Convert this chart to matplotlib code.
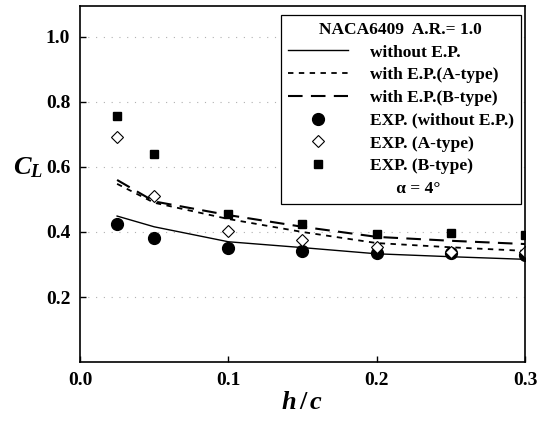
import matplotlib
matplotlib.use("Agg")
import matplotlib.pyplot as plt
from matplotlib.lines import Line2D

# Data (NACA6409, A.R. = 1.0, alpha = 4 deg)
h_c = [0.025, 0.05, 0.1, 0.15, 0.2, 0.25, 0.3]

# computed curves
cl_without = [0.449, 0.416, 0.370, 0.352, 0.333, 0.324, 0.316]
cl_a_type = [0.548, 0.490, 0.440, 0.400, 0.366, 0.353, 0.342]
cl_b_type = [0.560, 0.494, 0.452, 0.416, 0.385, 0.373, 0.363]

# experiments
exp_without = [0.424, 0.381, 0.350, 0.343, 0.336, 0.335, 0.329]
exp_a_type = [0.693, 0.512, 0.404, 0.375, 0.355, 0.339, 0.339]
exp_b_type = [0.757, 0.641, 0.455, 0.425, 0.394, 0.396, 0.391]

y_ticks = [0.2, 0.4, 0.6, 0.8, 1.0]
x_ticks = [0.0, 0.1, 0.2, 0.3]

plt.rcParams["font.family"] = "serif"
plt.rcParams["font.serif"] = ["Liberation Serif", "DejaVu Serif"]
plt.rcParams["font.weight"] = "bold"
plt.rcParams["mathtext.fontset"] = "custom"
plt.rcParams["mathtext.it"] = "Liberation Serif:italic:bold"
plt.rcParams["mathtext.rm"] = "Liberation Serif:bold"
plt.rcParams["mathtext.bf"] = "Liberation Serif:bold"

fig = plt.figure(figsize=(5.48, 4.25), dpi=100)
ax = fig.add_subplot(111)
fig.subplots_adjust(left=0.146, right=0.958, top=0.986, bottom=0.148)

# faint dotted grid
for yv in y_ticks:
    ax.axhline(yv, color="#b0b0b0", lw=0.8, ls=(0, (1, 6)), zorder=0)

ax.plot(h_c, cl_without, color="black", lw=1.0, ls="-")
ax.plot(h_c, cl_a_type, color="black", lw=1.3, ls=(0, (3, 3)))
ax.plot(h_c, cl_b_type, color="black", lw=1.5, ls=(0, (7, 4)))

ax.plot(h_c, exp_without, "o", color="black", ms=8.5, ls="none")
ax.plot(h_c, exp_a_type, "D", mfc="white", mec="black", mew=0.8, ms=6, ls="none")
ax.plot(h_c, exp_b_type, "s", color="black", ms=5.5, ls="none")

ax.set_xlim(0, 0.3)
ax.set_ylim(0, 1.095)
ax.set_xticks(x_ticks)
ax.set_yticks(y_ticks)
ax.set_xticklabels(["%.1f" % v for v in x_ticks])
ax.set_yticklabels(["%.1f" % v for v in y_ticks])
ax.tick_params(direction="in", length=4, width=1, labelsize=14, pad=7)
for s in ax.spines.values():
    s.set_linewidth(1.2)

ax.set_xlabel("$h\\,/\\,c$", fontsize=19, labelpad=2)
ax.set_ylabel("$C_L$", fontsize=19, rotation=0)
ax.yaxis.set_label_coords(-0.117, 0.51)

# legend
handles = [
    Line2D([], [], color="black", lw=1.0, ls="-"),
    Line2D([], [], color="black", lw=1.3, ls=(0, (3, 3))),
    Line2D([], [], color="black", lw=1.5, ls=(0, (7, 4))),
    Line2D([], [], marker="o", color="black", ms=8.5, ls="none"),
    Line2D([], [], marker="D", mfc="white", mec="black", mew=0.8, ms=6, ls="none"),
    Line2D([], [], marker="s", color="black", ms=5.5, ls="none"),
    Line2D([], [], ls="none"),
]
labels = [
    "without E.P.",
    "with E.P.(A-type)",
    "with E.P.(B-type)",
    "EXP. (without E.P.)",
    "EXP. (A-type)",
    "EXP. (B-type)",
    "      α = 4°",
]
leg = ax.legend(handles, labels, title="NACA6409  A.R.= 1.0",
                loc="upper right", bbox_to_anchor=(0.99, 0.975),
                borderaxespad=0, fontsize=12.5, title_fontsize=12.5,
                handlelength=3.45, handletextpad=1.25, labelspacing=0.38,
                borderpad=0.4, fancybox=False, framealpha=1,
                edgecolor="black")
leg.get_frame().set_linewidth(0.9)
leg.get_title().set_fontweight("bold")

plt.savefig("out.png", dpi=100)
plt.close()
